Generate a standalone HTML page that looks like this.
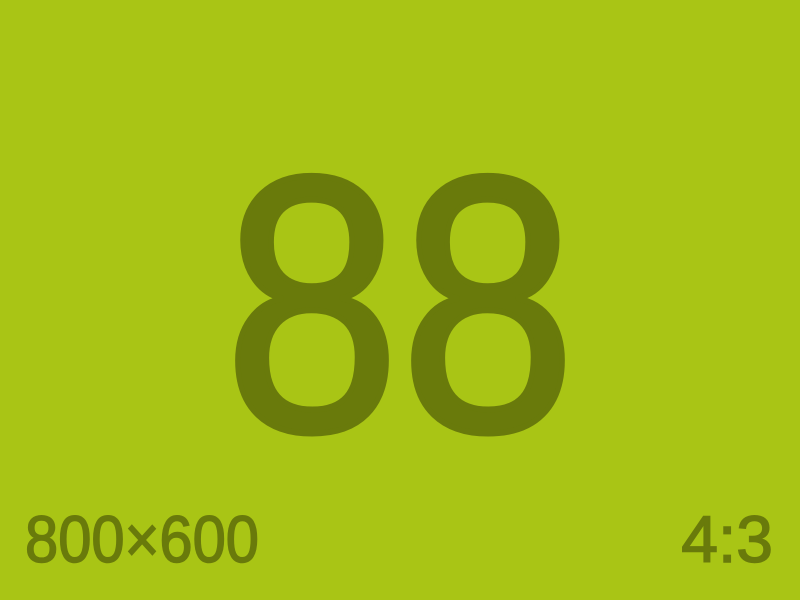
<!DOCTYPE html>
<html>
<head>
<meta charset="utf-8">
<style>
  html, body { margin: 0; padding: 0; width: 800px; height: 600px; overflow: hidden; background: #a9c515; }
  svg { display: block; }
  text { font-family: "Liberation Sans", "DejaVu Sans", sans-serif; fill: #697a0b; }
</style>
</head>
<body>
<svg width="800" height="600" viewBox="0 0 800 600">
  <rect x="0" y="0" width="800" height="600" fill="#a9c515"/>
  <text x="224" y="430" font-size="364" textLength="352" lengthAdjust="spacingAndGlyphs" stroke="#697a0b" stroke-width="6" stroke-linejoin="round">88</text>
  <text x="25" y="562" font-size="66" textLength="234" lengthAdjust="spacingAndGlyphs" stroke="#697a0b" stroke-width="1.5">800×600</text>
  <text x="773" y="562" font-size="66" text-anchor="end" stroke="#697a0b" stroke-width="1.5">4:3</text>
</svg>
</body>
</html>
